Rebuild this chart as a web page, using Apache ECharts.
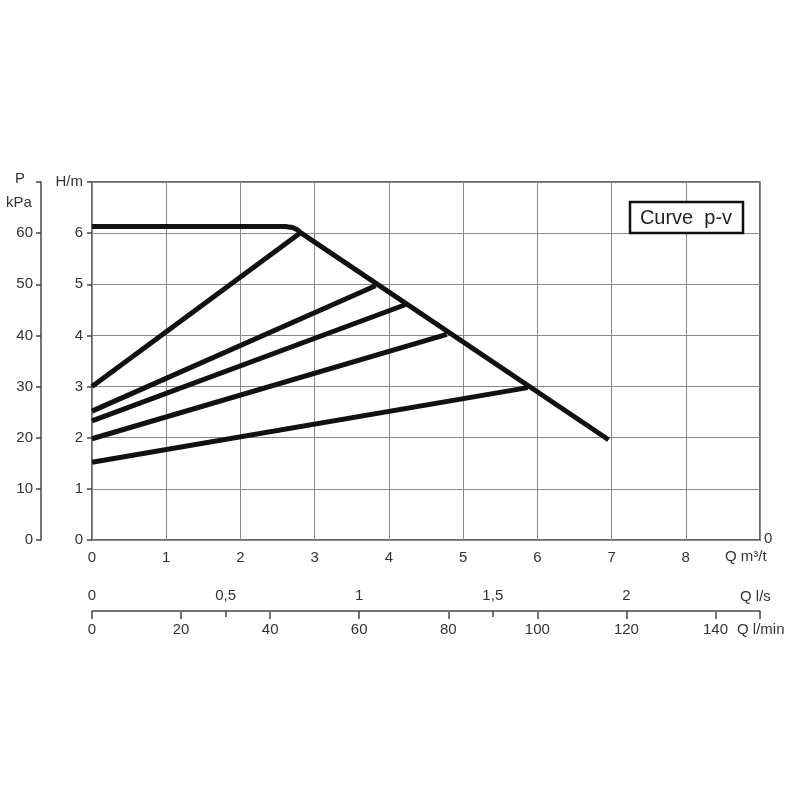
<!DOCTYPE html>
<html>
<head>
<meta charset="utf-8">
<script src="https://cdn.jsdelivr.net/npm/echarts@6/dist/echarts.min.js"></script>
<style>html,body{margin:0;padding:0;background:#fff;}#c{width:800px;height:800px;}</style>
</head>
<body>
<div id="c"></div>
<script>
// Data (Q in m3/h, H in m)
const maxCurveQ = [0, 2.6, 2.7, 2.76, 2.82, 6.96];
const maxCurveH = [6.13, 6.13, 6.11, 6.07, 6.0, 1.96];
const pvLine1Q = [0, 2.8];   const pvLine1H = [3.0, 6.0];
const pvLine2Q = [0, 3.82];  const pvLine2H = [2.52, 4.97];
const pvLine3Q = [0, 4.22];  const pvLine3H = [2.33, 4.6];
const pvLine4Q = [0, 4.78];  const pvLine4H = [1.98, 4.02];
const pvLine5Q = [0, 5.87];  const pvLine5H = [1.52, 2.98];
const qM3Ticks = [0, 1, 2, 3, 4, 5, 6, 7, 8];
const hTicks = [0, 1, 2, 3, 4, 5, 6];
const pTicks = [0, 10, 20, 30, 40, 50, 60];
const qLsTicks = ['0', '0,5', '1', '1,5', '2'];
const qLminTicks = [0, 20, 40, 60, 80, 100, 120, 140];
const legendText = 'Curve  p-v';

const zip = (q, h) => q.map((v, i) => [v, h[i]]);
const curves = [
  zip(maxCurveQ, maxCurveH),
  zip(pvLine1Q, pvLine1H),
  zip(pvLine2Q, pvLine2H),
  zip(pvLine3Q, pvLine3H),
  zip(pvLine4Q, pvLine4H),
  zip(pvLine5Q, pvLine5H)
];

const FONT = 'Liberation Sans';
const TXT = '#333';
const label = { color: TXT, fontFamily: FONT, fontSize: 15 };

const chart = echarts.init(document.getElementById('c'), null, { renderer: 'canvas' });
chart.setOption({
  animation: false,
  backgroundColor: '#fff',
  grid: [
    { left: 92, right: 40, top: 182, bottom: 260, show: true, borderColor: '#3a3a3a', borderWidth: 1.5, backgroundColor: 'transparent' },
    { left: 92, right: 40, top: 611, height: 1 }
  ],
  xAxis: [
    {
      gridIndex: 0, type: 'value', min: 0, max: 9, interval: 1,
      axisLine: { show: false }, axisTick: { show: false },
      splitLine: { show: true, lineStyle: { color: '#888', width: 1 } },
      axisLabel: Object.assign({}, label, { margin: 10, formatter: v => qM3Ticks.includes(v) ? String(v) : '' })
    },
    {
      gridIndex: 1, type: 'value', position: 'top', min: 0, max: 2.5, interval: 0.5,
      axisLine: { show: true, onZero: false, lineStyle: { color: '#444', width: 1.5 } },
      axisTick: { show: true, inside: true, length: 6, lineStyle: { color: '#444', width: 1.5 } },
      splitLine: { show: false },
      axisLabel: Object.assign({}, label, { margin: 8, formatter: v => { const i = Math.round(v / 0.5); return i < qLsTicks.length ? qLsTicks[i] : ''; } })
    },
    {
      gridIndex: 1, type: 'value', position: 'bottom', min: 0, max: 150, interval: 20,
      axisLine: { show: false, onZero: false },
      axisTick: { show: true, length: 7, lineStyle: { color: '#444', width: 1.5 } },
      splitLine: { show: false },
      axisLabel: Object.assign({}, label, { margin: 10, formatter: v => qLminTicks.includes(v) ? String(v) : '' })
    }
  ],
  yAxis: [
    {
      gridIndex: 0, type: 'value', min: 0, max: 7, interval: 1,
      axisLine: { show: false },
      axisTick: { show: true, length: 5, lineStyle: { color: '#444', width: 1.5 } },
      splitLine: { show: true, lineStyle: { color: '#888', width: 1 } },
      axisLabel: Object.assign({}, label, { margin: 9, formatter: v => v === 7 ? 'H/m' : (hTicks.includes(v) ? String(v) : '') })
    },
    {
      gridIndex: 0, type: 'value', min: 0, max: 70, interval: 10, position: 'left', offset: 51,
      axisLine: { show: true, lineStyle: { color: '#444', width: 1.5 } },
      axisTick: { show: true, length: 5, lineStyle: { color: '#444', width: 1.5 } },
      splitLine: { show: false },
      axisLabel: Object.assign({}, label, { margin: 8, formatter: v => pTicks.includes(v) ? String(v) : '' })
    },
    { gridIndex: 1, type: 'value', show: false }
  ],
  series: curves.map(d => ({
    type: 'line', xAxisIndex: 0, yAxisIndex: 0, data: d,
    showSymbol: false, silent: true, smooth: false,
    lineStyle: { color: '#111', width: 5, join: 'round' }
  })),
  graphic: [
    { type: 'text', left: 15, top: 171, style: { text: 'P', fill: TXT, font: '15px "Liberation Sans"' } },
    { type: 'text', left: 6, top: 195, style: { text: 'kPa', fill: TXT, font: '15px "Liberation Sans"' } },
    { type: 'text', left: 725, top: 549, style: { text: 'Q m³/t', fill: TXT, font: '15px "Liberation Sans"' } },
    { type: 'text', left: 764, top: 531, style: { text: '0', fill: TXT, font: '15px "Liberation Sans"' } },
    { type: 'text', left: 740, top: 589, style: { text: 'Q l/s', fill: TXT, font: '15px "Liberation Sans"' } },
    { type: 'text', left: 737, top: 622, style: { text: 'Q l/min', fill: TXT, font: '15px "Liberation Sans"' } },
    { type: 'rect', shape: { x: 630, y: 202, width: 113, height: 31 }, style: { fill: '#fff', stroke: '#111', lineWidth: 2.5 }, z: 10 },
    { type: 'text', x: 686, y: 218, z: 11, style: { text: legendText, fill: '#222', font: '20px "Liberation Sans Narrow", "Liberation Sans"', textAlign: 'center', textVerticalAlign: 'middle' } }
  ]
});
</script>
</body>
</html>
